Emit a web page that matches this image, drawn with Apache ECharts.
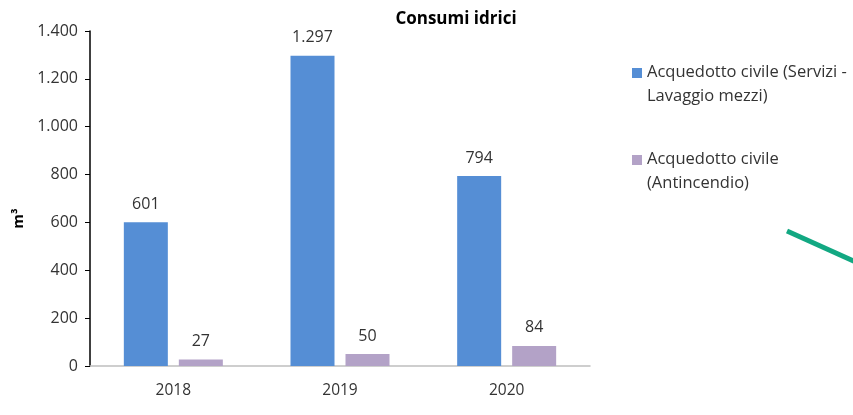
<!DOCTYPE html>
<html>
<head>
<meta charset="utf-8">
<script src="https://cdn.jsdelivr.net/npm/echarts@6/dist/echarts.min.js"></script>
<style>
  html, body { margin: 0; padding: 0; background: #fff; }
  #chart { width: 853px; height: 415px; }
</style>
</head>
<body>
<div id="chart"></div>
<script>
const years = ["2018", "2019", "2020"];
const serviziValues = [601, 1297, 794];
const antincendioValues = [27, 50, 84];
const seriesNames = [
  "Acquedotto civile (Servizi - Lavaggio mezzi)",
  "Acquedotto civile (Antincendio)"
];
const legendLabels = {
  [seriesNames[0]]: "Acquedotto civile (Servizi -\nLavaggio mezzi)",
  [seriesNames[1]]: "Acquedotto civile\n(Antincendio)"
};

// separatore delle migliaia all'italiana
const fmt = (v) => String(v).replace(/\B(?=(\d{3})+(?!\d))/g, ".");

const font = "'Open Sans', 'Noto Sans', sans-serif";
const chart = echarts.init(document.getElementById("chart"));

chart.setOption({
  animation: false,
  title: {
    text: "Consumi idrici",
    left: 451,
    textAlign: "center",
    top: 6,
    textStyle: { fontFamily: font, fontSize: 17, fontWeight: "bold", color: "#000" }
  },
  legend: {
    orient: "vertical",
    left: 627,
    top: 56,
    itemWidth: 10,
    itemHeight: 33,
    itemGap: 40,
    // quadratino allineato alla prima riga del testo
    icon: "path://M0,0L10,0L10,10L0,10Z M0,33L0.01,33L0.01,32.99Z",
    formatter: (name) => legendLabels[name],
    textStyle: { fontFamily: font, fontSize: 16.5, color: "#333", lineHeight: 23.5 },
    data: seriesNames
  },
  grid: { left: 90, right: 263, top: 31, bottom: 49 },
  xAxis: {
    type: "category",
    data: years,
    axisLine: { lineStyle: { color: "#bfbfbf", width: 1.5 } },
    axisTick: { show: false },
    axisLabel: { fontFamily: font, fontSize: 15.5, color: "#333", margin: 17 }
  },
  yAxis: {
    type: "value",
    min: 0,
    max: 1400,
    interval: 200,
    name: "m³",
    nameLocation: "middle",
    nameGap: 64,
    nameTextStyle: { fontFamily: font, fontSize: 15, fontWeight: "bold", color: "#000", padding: [0, 0, 0, -40] },
    axisLine: { show: true, lineStyle: { color: "#000", width: 1.5 } },
    axisTick: { show: true, length: 5, lineStyle: { color: "#000" } },
    splitLine: { show: false },
    axisLabel: { fontFamily: font, fontSize: 16, color: "#333", margin: 12, formatter: fmt }
  },
  series: [
    {
      name: seriesNames[0],
      type: "bar",
      data: serviziValues,
      barWidth: 44,
      barGap: "25%",
      itemStyle: { color: "#558ed5" },
      label: { show: true, position: "top", distance: 10, fontFamily: font, fontSize: 16, color: "#333", formatter: (p) => fmt(p.value) }
    },
    {
      name: seriesNames[1],
      type: "bar",
      data: antincendioValues,
      barWidth: 44,
      itemStyle: { color: "#b3a2c7" },
      label: { show: true, position: "top", distance: 10, fontFamily: font, fontSize: 16, color: "#333", formatter: (p) => fmt(p.value) }
    }
  ],
  graphic: [
    {
      type: "line",
      shape: { x1: 787, y1: 231, x2: 856, y2: 262 },
      style: { stroke: "#12a882", lineWidth: 5 }
    }
  ]
});
</script>
</body>
</html>
